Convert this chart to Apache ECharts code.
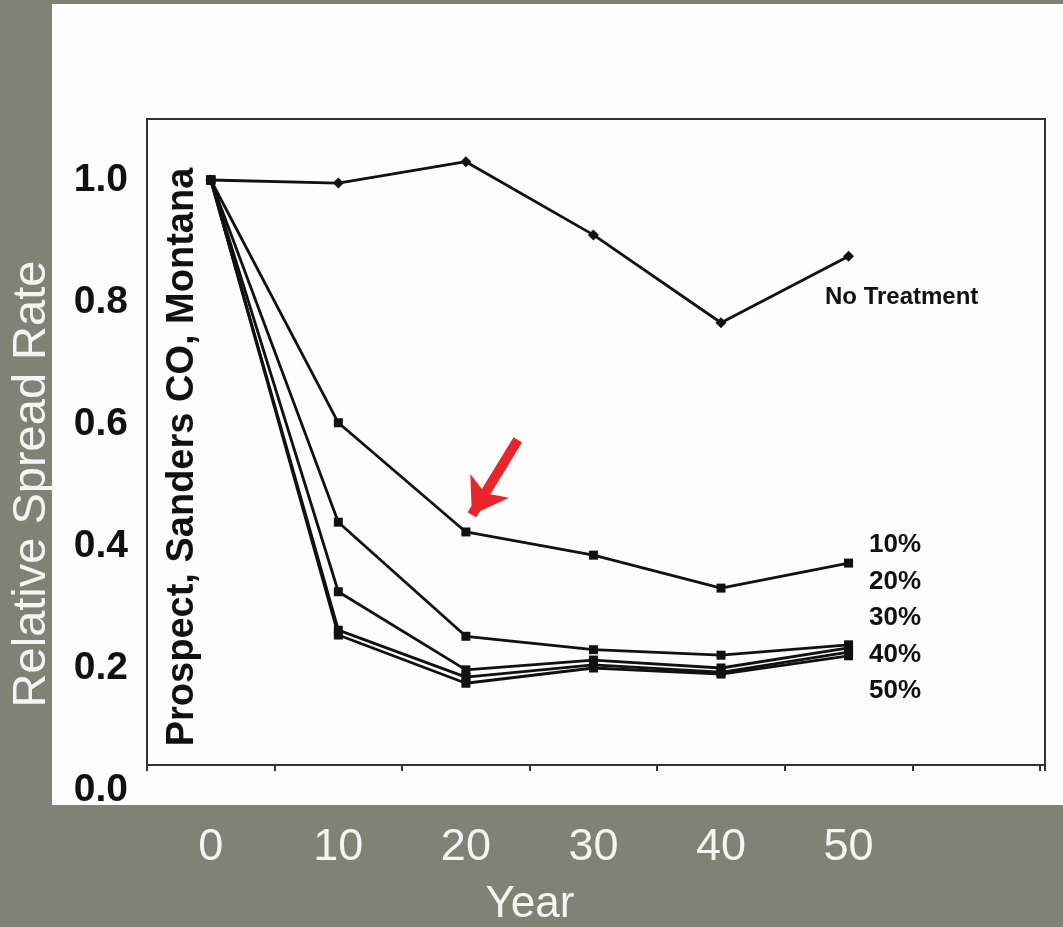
<!DOCTYPE html>
<html>
<head>
<meta charset="utf-8">
<script src="https://cdn.jsdelivr.net/npm/echarts@6/dist/echarts.min.js"></script>
<style>
  html, body { margin: 0; padding: 0; background: #7e8376; }
  #chart { width: 1063px; height: 927px; }
</style>
</head>
<body>
<div id="chart"></div>
<script>
// years on the x axis
const years = [0, 10, 20, 30, 40, 50]
// relative spread rate per treatment level
const noTreatment = [1.0, 0.995, 1.03, 0.91, 0.766, 0.875]
const treat10 = [1.0, 0.602, 0.423, 0.385, 0.331, 0.372]
const treat20 = [1.0, 0.439, 0.252, 0.23, 0.221, 0.238]
const treat30 = [1.0, 0.325, 0.197, 0.213, 0.2, 0.233]
const treat40 = [1.0, 0.262, 0.185, 0.205, 0.193, 0.226]
const treat50 = [1.0, 0.254, 0.175, 0.2, 0.19, 0.22]
const pctLabels = ['10%', '20%', '30%', '40%', '50%']
// arrow pointing at the 10% curve at year 20: [from, to] in data coords
const arrowFrom = [24.07, 0.574]
const arrowTo = [20.47, 0.451]

const chart = echarts.init(document.getElementById('chart'), null, { renderer: 'canvas' })

const sans = "'Liberation Sans', Arial, sans-serif"
const lineSeries = (name, vals, extra) => ({
  type: 'line',
  name,
  xAxisIndex: 1,
  yAxisIndex: 1,
  data: years.map((y, i) => [y, vals[i]]),
  symbol: 'rect',
  symbolSize: 9,
  itemStyle: { color: '#111' },
  lineStyle: { color: '#111', width: 2.8 },
  silent: true,
  z: 5,
  ...extra,
})

chart.setOption({
  animation: false,
  backgroundColor: '#7e8376',
  graphic: [
    { type: 'rect', shape: { x: 52, y: 4, width: 1011, height: 801 }, style: { fill: '#fdfdfd' }, z: -10 },
    {
      type: 'text', x: 32, y: 484, rotation: Math.PI / 2,
      style: { text: 'Relative Spread Rate', fill: '#f4f4f0', font: `47px ${sans}`, align: 'center', verticalAlign: 'middle' },
    },
    {
      type: 'text', x: 530, y: 905,
      style: { text: 'Year', fill: '#f4f4f0', font: `44px ${sans}`, align: 'center', verticalAlign: 'middle' },
    },
    {
      type: 'text', x: 183, y: 457, rotation: Math.PI / 2, z: 10,
      style: { text: 'Prospect, Sanders CO, Montana', fill: '#111', font: `bold 38px ${sans}`, align: 'center', verticalAlign: 'middle' },
    },
    {
      type: 'text', x: 825, y: 297, z: 10,
      style: { text: 'No Treatment', fill: '#111', font: `bold 24px ${sans}`, align: 'left', verticalAlign: 'middle' },
    },
    ...pctLabels.map((t, i) => ({
      type: 'text', x: 869, y: 545 + i * 36.5, z: 10,
      style: { text: t, fill: '#111', font: `bold 26px ${sans}`, align: 'left', verticalAlign: 'middle' },
    })),
  ],
  grid: [
    // plot frame of the scanned figure
    { left: 147, right: 18, top: 119, bottom: 162, show: true, borderColor: '#333', borderWidth: 2, backgroundColor: 'transparent' },
    // data area: 0.0 sits on the y = 0 label below the frame
    { left: 147, right: 18, top: 119, bottom: 137 },
  ],
  xAxis: [
    {
      gridIndex: 0, type: 'value', min: -5, max: 65.4, interval: 10,
      axisLine: { show: true, lineStyle: { color: '#333', width: 2 } },
      axisTick: { show: true, length: 6, lineStyle: { color: '#333', width: 2 } },
      axisLabel: { show: false },
      splitLine: { show: false },
    },
    {
      gridIndex: 1, type: 'value', min: -5, max: 65.4, interval: 5,
      axisLine: { show: false }, axisTick: { show: false }, splitLine: { show: false },
      axisLabel: {
        color: '#f4f4f0', fontSize: 45, margin: 35,
        fontFamily: sans,
        formatter: (v) => (v >= 0 && v <= 50 && v % 10 === 0 ? String(v) : ''),
      },
    },
  ],
  yAxis: [
    { gridIndex: 0, type: 'value', min: 0, max: 1, show: false, splitLine: { show: false } },
    {
      gridIndex: 1, type: 'value', min: 0, max: 1.1, interval: 0.2,
      axisLine: { show: false }, axisTick: { show: false }, splitLine: { show: false },
      axisLabel: {
        color: '#111', fontSize: 39, fontWeight: 'bold', margin: 19,
        fontFamily: sans,
        formatter: (v) => (v > 1.05 ? '' : v.toFixed(1)),
      },
    },
  ],
  series: [
    lineSeries('No Treatment', noTreatment, { symbol: 'diamond', symbolSize: 11 }),
    lineSeries('10%', treat10, {
      markLine: {
        silent: true,
        symbol: ['none', 'arrow'],
        symbolSize: 34,
        label: { show: false },
        lineStyle: { color: '#e8262b', width: 10, type: 'solid' },
        data: [[{ coord: arrowFrom }, { coord: arrowTo }]],
      },
    }),
    lineSeries('20%', treat20),
    lineSeries('30%', treat30),
    lineSeries('40%', treat40),
    lineSeries('50%', treat50),
  ],
})
</script>
</body>
</html>
